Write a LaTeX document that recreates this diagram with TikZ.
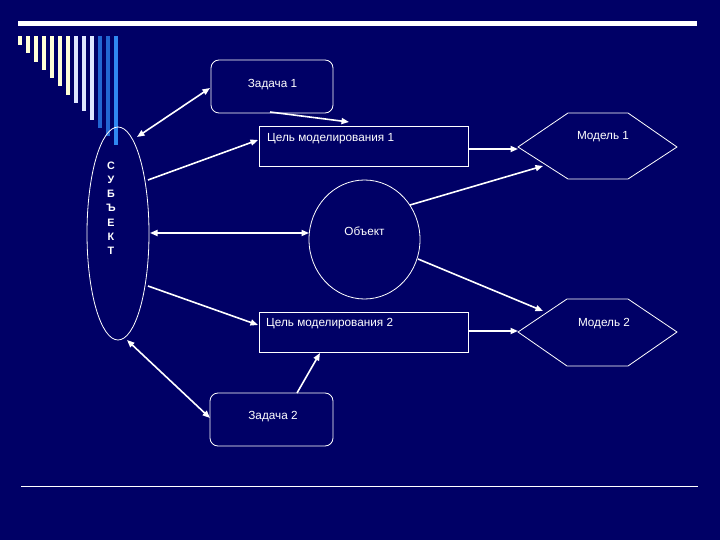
\documentclass[tikz,border=0pt]{standalone}
\usepackage{fontspec}
\setmainfont{Liberation Sans}
\usetikzlibrary{arrows.meta,shapes.geometric}
\definecolor{bg}{RGB}{0,0,102}
\definecolor{sy}{RGB}{255,255,214}
\definecolor{sw}{RGB}{222,230,255}
\definecolor{sb}{RGB}{34,102,210}
\definecolor{sc}{RGB}{48,136,240}
\begin{document}
\begin{tikzpicture}[x=1bp,y=-1bp,
  thinline/.style={draw=white,line width=0.8bp},
  boxnode/.style={thinline,inner sep=0pt,outer sep=0pt},
  arr/.style={draw=white,line width=1.6bp,-{Triangle[length=7.5bp,width=6bp]}},
  darr/.style={draw=white,line width=1.6bp,{Triangle[length=7.5bp,width=6bp]}-{Triangle[length=7.5bp,width=6bp]}},
  lbl/.style={text=white,font=\fontsize{11.8}{13}\selectfont,inner sep=0pt}]
\fill[bg] (0,0) rectangle (720,540);
\useasboundingbox (0,0) rectangle (720,540);
% decoration
\fill[white] (18,21) rectangle (697,26);
\foreach \k/\c in {0/sy,1/sy,2/sy,3/sy,4/sy,5/sy,6/sy,7/sw,8/sw,9/sw,10/sb,11/sb,12/sc}
  \fill[\c] ({18+8*\k},36) rectangle ({22+8*\k},{45+8.3*\k});
\draw[white,line width=1bp] (21,486) -- (698,486);
% subject
\node[boxnode,ellipse,minimum width=62bp,minimum height=213bp] (subj) at (118,233.5) {};
\node[text=white,align=center,inner sep=0pt,font=\bfseries\fontsize{10.8}{14.3}\selectfont] (subjt) at (111,208) {С\\У\\Б\\Ъ\\Е\\К\\Т};
% tasks
\node[boxnode,rounded corners=8bp,minimum width=122bp,minimum height=53bp] (z1) at (272,86.5) {};
\node[lbl] (z1t) at (272.5,85) {Задача 1};
\node[boxnode,rounded corners=8bp,minimum width=123bp,minimum height=53bp] (z2) at (271.5,419.5) {};
\node[lbl] (z2t) at (273,417) {Задача 2};
% goals
\node[boxnode,minimum width=209bp,minimum height=40bp] (c1) at (363.5,146) {};
\node[lbl,anchor=west] (c1t) at (267,139) {Цель моделирования 1};
\node[boxnode,minimum width=209bp,minimum height=40bp] (c2) at (363.5,332) {};
\node[lbl,anchor=west] (c2t) at (266,324) {Цель моделирования 2};
% object
\node[boxnode,ellipse,minimum width=111bp,minimum height=119bp] (obj) at (364.5,239.5) {};
\node[lbl] (objt) at (364.5,231) {Объект};
% models
\coordinate (m1l) at (518,147); \coordinate (m1r) at (677,147);
\draw[thinline] (m1l) -- (568,113) -- (628,113) -- (m1r) -- (628,179) -- (568,179) -- cycle;
\node[lbl] (m1t) at (603,137) {Модель 1};
\coordinate (m2l) at (518,332); \coordinate (m2r) at (677,332);
\draw[thinline] (m2l) -- (567,299) -- (628,299) -- (m2r) -- (628,366) -- (567,366) -- cycle;
\node[lbl] (m2t) at (604,324) {Модель 2};
% connector end points
\coordinate (a1s) at (137,137); \coordinate (a1e) at (210,88);
\coordinate (a2s) at (270,112); \coordinate (a2e) at (349,122);
\coordinate (a3s) at (148,180); \coordinate (a3e) at (258,140);
\coordinate (a4s) at (150,233); \coordinate (a4e) at (309,233);
\coordinate (a5s) at (148,286); \coordinate (a5e) at (258,325);
\coordinate (a6s) at (127,340); \coordinate (a6e) at (210,418);
\coordinate (a7s) at (297,393); \coordinate (a7e) at (320,353);
\coordinate (a8s) at (468,149); \coordinate (a8e) at (518,149);
\coordinate (a9s) at (410,205); \coordinate (a9e) at (543,166);
\coordinate (a10s) at (418,259); \coordinate (a10e) at (543,311);
\coordinate (a11s) at (468,331); \coordinate (a11e) at (518,331);
\draw[darr] (a1s) -- (a1e);
\draw[arr] (a2s) -- (a2e);
\draw[arr] (a3s) -- (a3e);
\draw[darr] (a4s) -- (a4e);
\draw[arr] (a5s) -- (a5e);
\draw[darr] (a6s) -- (a6e);
\draw[arr] (a7s) -- (a7e);
\draw[arr] (a8s) -- (a8e);
\draw[arr] (a9s) -- (a9e);
\draw[arr] (a10s) -- (a10e);
\draw[arr] (a11s) -- (a11e);
\end{tikzpicture}
\end{document}
